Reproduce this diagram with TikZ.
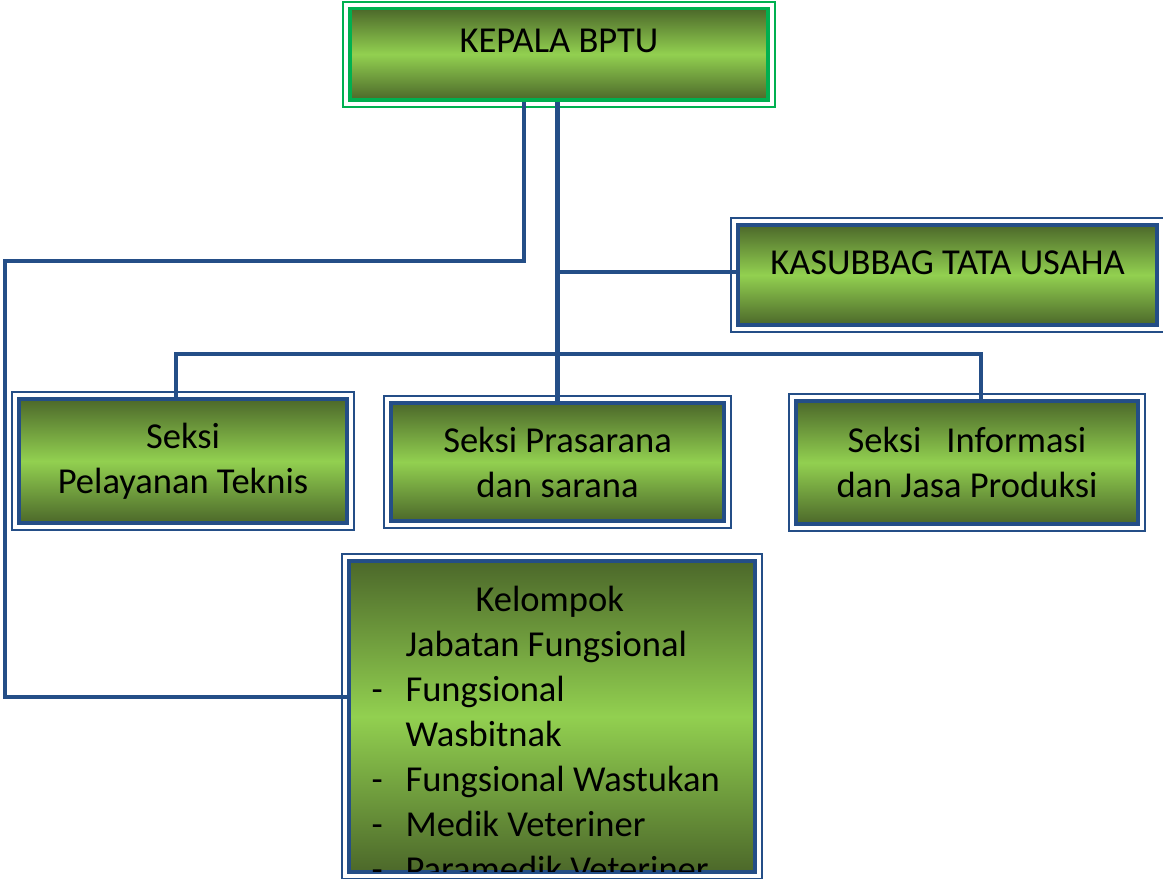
\documentclass[tikz,border=0pt]{standalone}
\usepackage{fontspec}
\setmainfont{Carlito}

\definecolor{linkblue}{RGB}{36,78,135}
\definecolor{headgreen}{RGB}{0,176,80}
\definecolor{darkolive}{RGB}{76,104,42}
\definecolor{lightgreen}{RGB}{146,208,80}

\tikzset{
  boxfont/.style={font=\fontsize{27.4}{33.75}\selectfont},
  orgbox/.style={draw=linkblue, line width=2.6pt, top color=darkolive,
    bottom color=darkolive, middle color=lightgreen, align=center,
    inner sep=0pt, boxfont},
  headbox/.style={orgbox, draw=headgreen},
  frame/.style={draw=linkblue, line width=1.5pt},
  link/.style={draw=linkblue, line width=3.4pt},
}

\begin{document}
\begin{tikzpicture}[x=0.75pt, y=-0.75pt]
  \fill[white] (0,0) rectangle (1163,878);
  \useasboundingbox (0,0) rectangle (1163,878);

  \node[headbox, minimum width=313.5pt, minimum height=68.6pt,
        text height=18pt, text depth=20pt] (kepala) at (559, 54.25) {KEPALA BPTU};

  \node[orgbox, minimum width=314.25pt, minimum height=75pt,
        text height=18pt, text depth=19pt] (tatausaha) at (947.5, 275) {KASUBBAG TATA USAHA};

  \node[orgbox, minimum width=246pt, minimum height=93pt] (pelayanan) at (183, 461) {Seksi\\Pelayanan Teknis};
  \node[orgbox, minimum width=249.75pt, minimum height=88.5pt] (prasarana) at (557.5, 462) {Seksi Prasarana\\dan sarana};
  \node[orgbox, minimum width=256.5pt, minimum height=92.25pt] (informasi) at (967, 462.5) {Seksi~~~Informasi\\dan Jasa Produksi};

  \node[orgbox, minimum width=304.5pt, minimum height=233.25pt] (kelompok) at (552, 716.5) {};

  % text of the lowest box runs past its bottom edge
  \begin{scope}
    \clip ([shift={(2,2)}]kelompok.north west) rectangle ([shift={(-2,-2)}]kelompok.south east);
    \node[boxfont, align=left, inner sep=0pt, anchor=base west] (kjftext)
      at ([shift={(24,322)}]kelompok.north west) {%
      \hspace*{78pt}Kelompok\\
      \hspace*{25.5pt}Jabatan Fungsional\\
      \makebox[25.5pt][l]{-}Fungsional\\
      \hspace*{25.5pt}Wasbitnak\\
      \makebox[25.5pt][l]{-}Fungsional Wastukan\\
      \makebox[25.5pt][l]{-}Medik Veteriner\\
      \makebox[25.5pt][l]{-}Paramedik Veteriner};
  \end{scope}

  % outer frames
  \draw[frame, draw=headgreen] ([shift={(-5,-5)}]kepala.north west) rectangle ([shift={(5,5)}]kepala.south east);
  \foreach \n in {tatausaha, pelayanan, prasarana, informasi, kelompok}
    \draw[frame] ([shift={(-5,-5)}]\n.north west) rectangle ([shift={(5,5)}]\n.south east);

  \coordinate (tujoin) at ([yshift=2.25pt]tatausaha.west);
  \coordinate (busl) at ([xshift=-5.25pt]pelayanan.north);
  \coordinate (busr) at ([xshift=10.5pt]informasi.north);
  \coordinate (bus) at (0, 354);
  \coordinate (side) at (5, 261);

  \draw[link] (prasarana.north |- kepala.south) -- (prasarana.north);
  \draw[link] (prasarana.north |- tujoin) -- (tujoin);
  \draw[link] (busl) -- (busl |- bus) -- (busr |- bus) -- (busr);
  \draw[link] ([xshift=-26.25pt]kepala.south) |- (side) |- ([yshift=14.6pt]kelompok.west);
\end{tikzpicture}
\end{document}
